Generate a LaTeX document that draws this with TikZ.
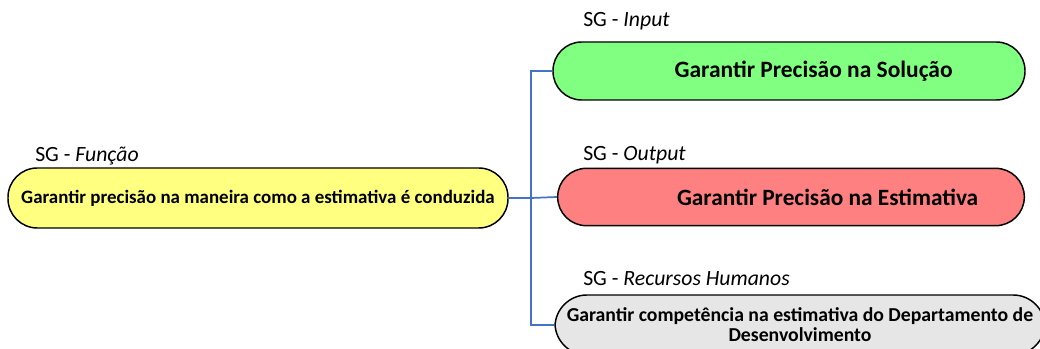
\documentclass[tikz,border=0pt]{standalone}
\usepackage{fontspec}
\setmainfont{Carlito}
\definecolor{cgreen}{HTML}{80FF80}
\definecolor{cred}{HTML}{FF8080}
\definecolor{cyellow}{HTML}{FFFF80}
\definecolor{cgray}{HTML}{E6E6E6}
\definecolor{cblue}{HTML}{4472C4}
\tikzset{
  goal/.style={rectangle, draw=black, line width=1.1pt, inner sep=0pt, align=center, font=\bfseries},
  lbl/.style={anchor=west, inner sep=0pt, font=\fontsize{16.3}{18}\selectfont},
  conn/.style={draw=cblue, line width=1.3pt}
}
\begin{document}
\begin{tikzpicture}[x=0.75pt,y=-0.75pt]
\useasboundingbox (0,0) rectangle (1040,349);
\clip (0,0) rectangle (1040,349);
\node[goal, fill=cyellow, minimum width=375pt, minimum height=45pt, rounded corners=22pt, font=\bfseries\fontsize{14.2}{16}\selectfont] (Y) at (258,198) {Garantir precisão na maneira como a estimativa é conduzida};
\node[goal, fill=cgreen, minimum width=354pt, minimum height=43.5pt, rounded corners=21.5pt, font=\bfseries\fontsize{17.6}{20}\selectfont] (G) at (789,71) {\hspace*{37pt}Garantir Precisão na Solução};
\node[goal, fill=cred, minimum width=350pt, minimum height=43pt, rounded corners=21.5pt, font=\bfseries\fontsize{17.5}{20}\selectfont] (R) at (791,197) {\hspace*{55pt}Garantir Precisão na Estimativa};
\node[goal, fill=cgray, minimum width=367.5pt, minimum height=45pt, rounded corners=24pt, font=\bfseries\fontsize{14.8}{15}\selectfont] (H) at (800,325) {Garantir competência na estimativa do Departamento de\\Desenvolvimento};

\node[lbl] (lY) at (35,156) {SG - \textit{Função}};
\node[lbl] (lG) at (583,21) {SG - \textit{Input}};
\node[lbl] (lR) at (583,155) {SG - \textit{Output}};
\node[lbl] (lH) at (583,279) {SG - \textit{Recursos Humanos}};

\coordinate (T) at (531,198);
\draw[conn] (Y.east) -- (T) -- (R.west);
\draw[conn] (G.west) -| (T) |- (H.west);
\end{tikzpicture}
\end{document}
